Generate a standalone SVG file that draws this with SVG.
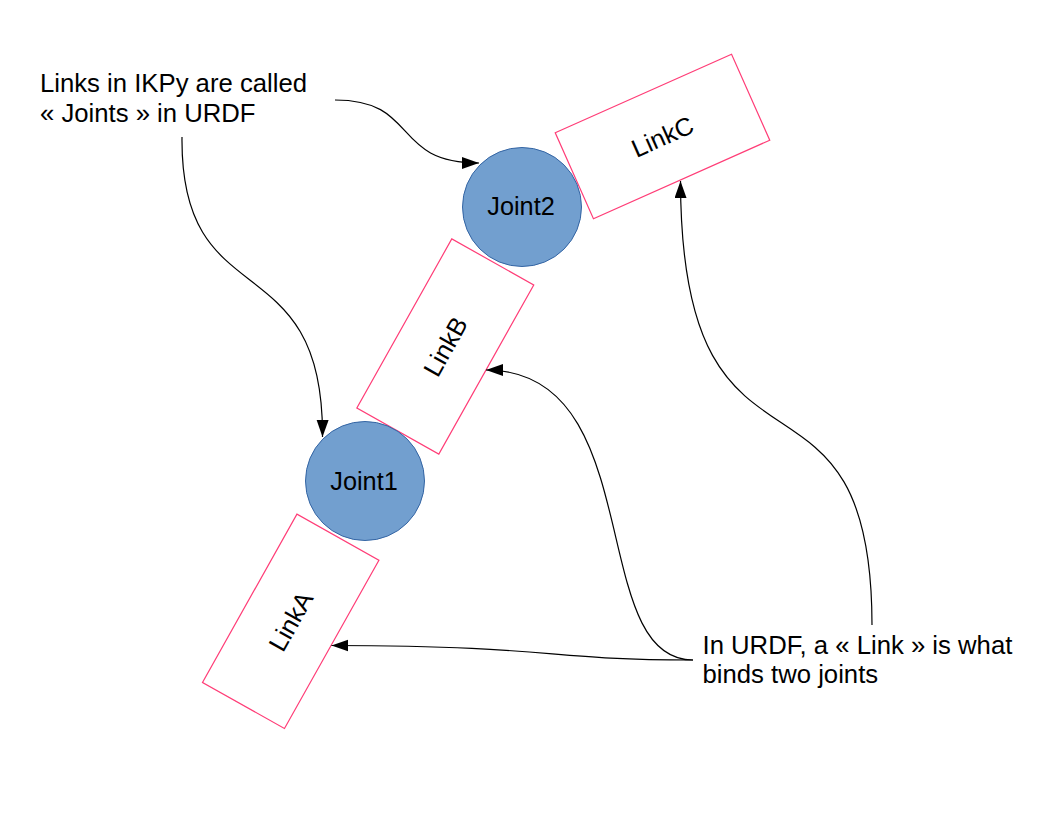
<svg xmlns="http://www.w3.org/2000/svg" width="1056" height="816" viewBox="0 0 1056 816">
<style>
  text { font-family: "Liberation Sans", Arial, sans-serif; font-size: 25.3px; fill: #000; }
  .note { font-size: 25.7px; }
  .link { fill: #fff; stroke: #ff3d77; stroke-width: 1.2; }
  .joint { fill: #729fcf; stroke: #3465a4; stroke-width: 1; }
  .conn { fill: none; stroke: #000; stroke-width: 1.2; }
  .c { text-anchor: middle; }
</style>
<defs>
  <marker id="arrow" markerUnits="userSpaceOnUse" markerWidth="18" markerHeight="13" refX="17" refY="6" orient="auto">
    <path d="M0,0 L17,6 L0,12 z" fill="#000"/>
  </marker>
</defs>
<rect width="1056" height="816" fill="#fff"/>

<g id="linkC">
  <rect class="link" x="-96.5" y="-47" width="193" height="94" transform="translate(662.5,136.5) rotate(-24)"/>
  <text class="c" x="0" y="9" transform="translate(662.5,136.5) rotate(-24)">LinkC</text>
</g>
<g id="linkB">
  <rect class="link" x="-97" y="-47" width="194" height="94" transform="translate(445.3,346.5) rotate(-60.7)"/>
  <text class="c" x="0" y="9" transform="translate(445.3,346.5) rotate(-60.7)">LinkB</text>
</g>
<g id="linkA">
  <rect class="link" x="-96.5" y="-47" width="193" height="94" transform="translate(290.7,621.3) rotate(-60.7)"/>
  <text class="c" x="0" y="9" transform="translate(290.7,621.3) rotate(-60.7)">LinkA</text>
</g>
<g id="joint2">
  <circle class="joint" cx="522" cy="207" r="59.5"/>
  <text class="c" x="521" y="214.5">Joint2</text>
</g>
<g id="joint1">
  <circle class="joint" cx="365" cy="481" r="59.5"/>
  <text class="c" x="364" y="490">Joint1</text>
</g>

<g id="note-ikpy">
  <text class="note" x="40" y="92">Links in IKPy are called</text>
  <text class="note" x="40" y="121.5">« Joints » in URDF</text>
</g>
<g id="note-urdf">
  <text class="note" x="702.5" y="653.5">In URDF, a « Link » is what</text>
  <text class="note" x="702.5" y="683">binds two joints</text>
</g>

<g id="connectors">
  <path class="conn" d="M335,100 C420,100 390,163 479,163" marker-end="url(#arrow)"/>
  <path class="conn" d="M182,137 C180,320 324,240 322.5,437" marker-end="url(#arrow)"/>
  <path class="conn" d="M693,660 C585,660 650,370 486,370" marker-end="url(#arrow)"/>
  <path class="conn" d="M693,660 C540,660 560,646 331.5,645.5" marker-end="url(#arrow)"/>
  <path class="conn" d="M872,625 C872,330 681,520 680.5,181" marker-end="url(#arrow)"/>
</g>
</svg>
